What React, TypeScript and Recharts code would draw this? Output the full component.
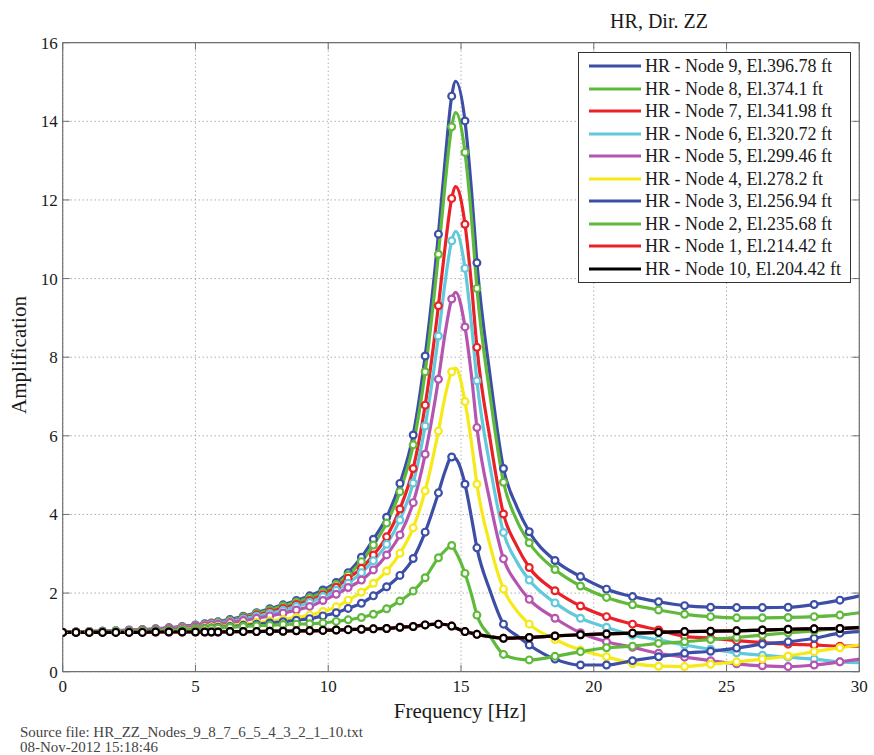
import React from 'react';
import { LineChart, Line, XAxis, YAxis, CartesianGrid, Legend } from 'recharts';

// Frequency grid [Hz]
const FREQ = [
  0, 0.5, 1, 1.5, 2, 2.5, 3, 3.5, 4, 4.5,
  5, 5.35, 5.6, 5.85, 6.3, 6.8, 7.3, 7.8, 8.3, 8.8,
  9.3, 9.8, 10.3, 10.75, 11.25, 11.7, 12.2, 12.7, 13.2, 13.65,
  14.15, 14.4, 14.65, 14.8, 15.15, 15.4, 15.6, 16.1, 16.6, 17.1,
  17.57, 18.54, 19.5, 20.48, 21.46, 22.44, 23.42, 24.4, 25.38, 26.35,
  27.32, 28.3, 29.27, 30,
];
// frequencies that carry the line only (no circle marker)
const LINE_ONLY_FREQ = [14.4, 14.8, 15.4, 16.1, 17.1, 30];

const X_TICKS = [0, 5, 10, 15, 20, 25, 30];
const Y_TICKS = [0, 2, 4, 6, 8, 10, 12, 14, 16];

const NODE9 = [
  1.00, 1.01, 1.02, 1.03, 1.04, 1.06, 1.07, 1.09, 1.12, 1.15,
  1.19, 1.22, 1.24, 1.27, 1.33, 1.41, 1.50, 1.60, 1.70, 1.81,
  1.93, 2.08, 2.27, 2.52, 2.91, 3.37, 3.93, 4.79, 6.02, 8.03,
  11.13, 13.0, 14.64, 15.02, 14.01, 12.2, 10.4, 7.5, 5.17, 4.2,
  3.56, 2.83, 2.42, 2.10, 1.91, 1.78, 1.68, 1.64, 1.63, 1.63,
  1.64, 1.71, 1.82, 1.93,
];
const NODE8 = [
  1.00, 1.01, 1.02, 1.03, 1.04, 1.05, 1.07, 1.09, 1.11, 1.14,
  1.18, 1.21, 1.23, 1.26, 1.31, 1.39, 1.48, 1.57, 1.67, 1.77,
  1.88, 2.02, 2.22, 2.46, 2.80, 3.22, 3.78, 4.58, 5.77, 7.63,
  10.62, 12.4, 13.86, 14.22, 13.21, 11.5, 9.75, 7.0, 4.82, 3.85,
  3.28, 2.60, 2.18, 1.89, 1.70, 1.57, 1.46, 1.40, 1.37, 1.37,
  1.38, 1.40, 1.44, 1.50,
];
const NODE7 = [
  1.00, 1.01, 1.02, 1.03, 1.04, 1.05, 1.07, 1.08, 1.11, 1.14,
  1.17, 1.20, 1.22, 1.24, 1.29, 1.36, 1.44, 1.52, 1.61, 1.71,
  1.81, 1.96, 2.15, 2.38, 2.63, 2.97, 3.43, 4.14, 5.17, 6.78,
  9.31, 10.8, 12.04, 12.34, 11.38, 9.8, 8.25, 5.9, 4.01, 3.2,
  2.65, 2.06, 1.67, 1.40, 1.21, 1.06, 0.90, 0.85, 0.79, 0.74,
  0.70, 0.68, 0.65, 0.65,
];
const NODE6 = [
  1.00, 1.01, 1.02, 1.03, 1.04, 1.05, 1.06, 1.08, 1.10, 1.13,
  1.16, 1.19, 1.21, 1.23, 1.28, 1.34, 1.41, 1.48, 1.56, 1.66,
  1.76, 1.91, 2.07, 2.25, 2.52, 2.82, 3.24, 3.86, 4.80, 6.25,
  8.54, 9.9, 10.96, 11.2, 10.26, 8.8, 7.40, 5.2, 3.54, 2.8,
  2.33, 1.75, 1.36, 1.13, 0.93, 0.81, 0.68, 0.57, 0.48, 0.42,
  0.37, 0.32, 0.25, 0.23,
];
const NODE5 = [
  1.00, 1.01, 1.02, 1.02, 1.03, 1.05, 1.06, 1.08, 1.10, 1.12,
  1.15, 1.17, 1.19, 1.21, 1.25, 1.30, 1.36, 1.42, 1.49, 1.57,
  1.66, 1.81, 1.97, 2.14, 2.33, 2.59, 2.97, 3.48, 4.30, 5.53,
  7.44, 8.6, 9.48, 9.65, 8.77, 7.5, 6.21, 4.3, 2.87, 2.25,
  1.84, 1.36, 0.99, 0.76, 0.62, 0.47, 0.37, 0.28, 0.20, 0.15,
  0.13, 0.17, 0.25, 0.32,
];
const NODE4 = [
  1.00, 1.01, 1.01, 1.02, 1.02, 1.03, 1.04, 1.05, 1.06, 1.08,
  1.10, 1.12, 1.13, 1.15, 1.17, 1.21, 1.25, 1.29, 1.33, 1.38,
  1.44, 1.53, 1.65, 1.82, 2.02, 2.25, 2.56, 3.01, 3.66, 4.60,
  6.12, 7.0, 7.63, 7.72, 6.87, 5.8, 4.77, 3.2, 2.10, 1.55,
  1.21, 0.82, 0.55, 0.38, 0.21, 0.14, 0.13, 0.19, 0.25, 0.32,
  0.40, 0.51, 0.61, 0.68,
];
const NODE3 = [
  1.00, 1.01, 1.01, 1.02, 1.02, 1.03, 1.04, 1.05, 1.06, 1.07,
  1.09, 1.10, 1.11, 1.13, 1.15, 1.18, 1.21, 1.24, 1.27, 1.31,
  1.35, 1.42, 1.50, 1.61, 1.74, 1.93, 2.16, 2.45, 2.88, 3.55,
  4.55, 5.1, 5.46, 5.42, 4.77, 3.9, 3.15, 2.05, 1.21, 0.92,
  0.68, 0.32, 0.17, 0.17, 0.28, 0.38, 0.47, 0.52, 0.60, 0.70,
  0.76, 0.85, 0.98, 1.02,
];
const NODE2 = [
  1.00, 1.00, 1.01, 1.01, 1.02, 1.02, 1.03, 1.04, 1.05, 1.06,
  1.08, 1.09, 1.10, 1.11, 1.13, 1.15, 1.17, 1.18, 1.20, 1.21,
  1.22, 1.24, 1.28, 1.32, 1.38, 1.46, 1.60, 1.80, 2.05, 2.39,
  2.90, 3.08, 3.21, 3.05, 2.50, 1.95, 1.44, 0.90, 0.44, 0.33,
  0.30, 0.39, 0.51, 0.61, 0.65, 0.72, 0.76, 0.82, 0.87, 0.93,
  0.99, 1.04, 1.10, 1.13,
];
const NODE1 = [
  1.00, 1.00, 1.00, 1.00, 1.00, 1.00, 1.00, 1.01, 1.01, 1.01,
  1.01, 1.01, 1.01, 1.01, 1.02, 1.02, 1.02, 1.03, 1.03, 1.04,
  1.04, 1.05, 1.06, 1.07, 1.08, 1.09, 1.10, 1.13, 1.15, 1.19,
  1.21, 1.20, 1.16, 1.11, 1.02, 0.98, 0.95, 0.89, 0.85, 0.86,
  0.87, 0.91, 0.94, 0.96, 0.98, 1.00, 1.02, 1.03, 1.04, 1.06,
  1.08, 1.09, 1.10, 1.12,
];
const NODE10 = [
  1.00, 1.00, 1.00, 1.00, 1.00, 1.00, 1.00, 1.01, 1.01, 1.01,
  1.01, 1.01, 1.01, 1.01, 1.02, 1.02, 1.02, 1.03, 1.03, 1.04,
  1.04, 1.05, 1.06, 1.07, 1.08, 1.09, 1.10, 1.13, 1.15, 1.19,
  1.21, 1.20, 1.16, 1.11, 1.02, 0.98, 0.95, 0.89, 0.85, 0.86,
  0.87, 0.91, 0.94, 0.96, 0.98, 1.00, 1.02, 1.03, 1.04, 1.06,
  1.08, 1.09, 1.10, 1.12,
];

const BLUE = '#3c4ea6';
const GREEN = '#5fba3c';
const RED = '#eb2128';
const CYAN = '#62c8dc';
const MAGENTA = '#b555b0';
const YELLOW = '#f5ea17';
const BLACK = '#000000';

const SERIES = [
  { key: 'n9', name: 'HR - Node 9, El.396.78 ft', color: BLUE, values: NODE9 },
  { key: 'n8', name: 'HR - Node 8, El.374.1 ft', color: GREEN, values: NODE8 },
  { key: 'n7', name: 'HR - Node 7, El.341.98 ft', color: RED, values: NODE7 },
  { key: 'n6', name: 'HR - Node 6, El.320.72 ft', color: CYAN, values: NODE6 },
  { key: 'n5', name: 'HR - Node 5, El.299.46 ft', color: MAGENTA, values: NODE5 },
  { key: 'n4', name: 'HR - Node 4, El.278.2 ft', color: YELLOW, values: NODE4 },
  { key: 'n3', name: 'HR - Node 3, El.256.94 ft', color: BLUE, values: NODE3 },
  { key: 'n2', name: 'HR - Node 2, El.235.68 ft', color: GREEN, values: NODE2 },
  { key: 'n1', name: 'HR - Node 1, El.214.42 ft', color: RED, values: NODE1 },
  { key: 'n10', name: 'HR - Node 10, El.204.42 ft', color: BLACK, values: NODE10 },
];

const data = FREQ.map((f, i) => {
  const row: Record<string, number> = { f };
  SERIES.forEach((s) => {
    row[s.key] = s.values[i];
  });
  return row;
});

const FONT = '"Liberation Serif", "Times New Roman", serif';
const FRAME = '#6f6f6f';
const TEXT = '#1a1a1a';

const makeDot = (color: string) => (props: any) => {
  const { cx, cy, payload, index } = props;
  if (cx == null || cy == null || LINE_ONLY_FREQ.includes(payload.f)) {
    return <g key={`e-${index}`} />;
  }
  return (
    <circle key={`c-${index}`} cx={cx} cy={cy} r={3.4} fill="#ffffff" stroke={color} strokeWidth={2.2} />
  );
};

const BottomTick = (p: any) => (
  <g>
    <line x1={p.x} y1={p.y} x2={p.x} y2={p.y - 7} stroke={FRAME} strokeWidth={1} />
    <text x={p.x} y={p.y + 20} textAnchor="middle" fontFamily={FONT} fontSize={17} fill={TEXT}>
      {p.payload.value}
    </text>
  </g>
);
const TopTick = (p: any) => (
  <line x1={p.x} y1={p.y} x2={p.x} y2={p.y + 7} stroke={FRAME} strokeWidth={1} />
);
const LeftTick = (p: any) => (
  <g>
    <line x1={p.x} y1={p.y} x2={p.x + 7} y2={p.y} stroke={FRAME} strokeWidth={1} />
    <text x={p.x - 5} y={p.y} dy="0.35em" textAnchor="end" fontFamily={FONT} fontSize={17} fill={TEXT}>
      {p.payload.value}
    </text>
  </g>
);
const RightTick = (p: any) => (
  <line x1={p.x} y1={p.y} x2={p.x - 7} y2={p.y} stroke={FRAME} strokeWidth={1} />
);

const LegendBox = () => (
  <div
    style={{
      border: '1px solid #333',
      background: '#ffffff',
      padding: '2px 0',
      width: 273,
      boxSizing: 'border-box',
      fontFamily: FONT,
    }}
  >
    {SERIES.map((s) => (
      <div key={s.key} style={{ display: 'flex', alignItems: 'center', height: 22.5 }}>
        <svg width={66} height={10} style={{ flex: 'none' }}>
          <line x1={10} y1={5} x2={62} y2={5} stroke={s.color} strokeWidth={3.2} />
        </svg>
        <span style={{ fontSize: 18, color: TEXT, whiteSpace: 'nowrap', lineHeight: '22px' }}>{s.name}</span>
      </div>
    ))}
  </div>
);

export default function App() {
  return (
    <div style={{ position: 'absolute', left: 0, top: 0, width: 874, height: 755, background: '#fff', overflow: 'hidden' }}>
      <LineChart
        width={874}
        height={755}
        data={data}
        margin={{ top: 41.7, right: 13.7, bottom: 63.3, left: 22.7 }}
      >
        <CartesianGrid stroke="#8a8a8a" strokeDasharray="1 3" horizontal vertical />
        <XAxis
          dataKey="f"
          type="number"
          domain={[0, 30]}
          ticks={X_TICKS}
          interval={0}
          height={20}
          tickSize={0}
          tickMargin={0}
          axisLine={{ stroke: FRAME, strokeWidth: 1.2 }}
          tickLine={false}
          tick={BottomTick}
          allowDataOverflow
        />
        <XAxis
          xAxisId="top"
          orientation="top"
          dataKey="f"
          type="number"
          domain={[0, 30]}
          ticks={X_TICKS}
          interval={0}
          height={1}
          tickSize={0}
          tickMargin={0}
          axisLine={{ stroke: FRAME, strokeWidth: 1.2 }}
          tickLine={false}
          tick={TopTick}
          allowDataOverflow
        />
        <YAxis
          type="number"
          domain={[0, 16]}
          ticks={Y_TICKS}
          interval={0}
          width={40}
          tickSize={0}
          tickMargin={0}
          axisLine={{ stroke: FRAME, strokeWidth: 1.2 }}
          tickLine={false}
          tick={LeftTick}
          allowDataOverflow
        />
        <YAxis
          yAxisId="right"
          orientation="right"
          type="number"
          domain={[0, 16]}
          ticks={Y_TICKS}
          interval={0}
          width={1}
          tickSize={0}
          tickMargin={0}
          axisLine={{ stroke: FRAME, strokeWidth: 1.2 }}
          tickLine={false}
          tick={RightTick}
          allowDataOverflow
        />
        {SERIES.map((s) => (
          <Line
            key={s.key}
            dataKey={s.key}
            name={s.name}
            type="monotone"
            stroke={s.color}
            strokeWidth={3.2}
            dot={makeDot(s.color)}
            activeDot={false}
            isAnimationActive={false}
          />
        ))}
        <Legend
          layout="vertical"
          align="center"
          verticalAlign="middle"
          content={<LegendBox />}
          wrapperStyle={{ left: 578, top: 52, width: 275, height: 230 }}
        />
      </LineChart>
      <svg
        width={874}
        height={755}
        style={{ position: 'absolute', left: 0, top: 0, pointerEvents: 'none' }}
      >
        <text x={659} y={28} textAnchor="middle" fontFamily={FONT} fontSize={20} fill={TEXT}>
          HR, Dir. ZZ
        </text>
        <text x={460} y={718} textAnchor="middle" fontFamily={FONT} fontSize={21} fill={TEXT}>
          Frequency [Hz]
        </text>
        <text
          x={26}
          y={355}
          textAnchor="middle"
          fontFamily={FONT}
          fontSize={21}
          fill={TEXT}
          transform="rotate(-90, 26, 355)"
        >
          Amplification
        </text>
        <text x={20} y={736.5} fontFamily={FONT} fontSize={15} fill="#444">
          Source file: HR_ZZ_Nodes_9_8_7_6_5_4_3_2_1_10.txt
        </text>
        <text x={20} y={751.5} fontFamily={FONT} fontSize={15} fill="#444">
          08-Nov-2012 15:18:46
        </text>
      </svg>
    </div>
  );
}
